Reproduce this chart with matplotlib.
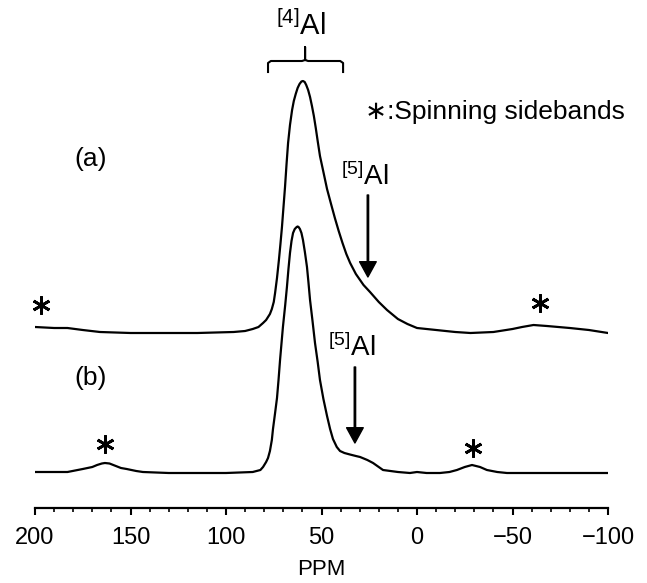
import matplotlib
matplotlib.use("Agg")
import matplotlib.pyplot as plt
import numpy as np

plt.rcParams['font.family'] = ['Liberation Sans', 'DejaVu Sans']
plt.rcParams['mathtext.fontset'] = 'custom'
plt.rcParams['mathtext.rm'] = 'Liberation Sans'
plt.rcParams['mathtext.it'] = 'Liberation Sans:italic'

# Spectrum (a): chemical shift (ppm) and intensity (a.u., above its own baseline)
ppm_a = [200, 190, 183, 175, 166, 150, 131, 115, 96, 90,
         86, 83, 80.6, 79, 78, 77, 76, 75, 74.3, 73.3,
         72.3, 71.5, 70.7, 69.9, 69.1, 68.3, 67.5, 66.5, 65.4, 64.5,
         63.5, 62.5, 61.5, 60.5, 59.7, 58.8, 58, 57, 56, 55,
         54, 53, 52, 50.8, 49, 47.1, 45, 43, 41, 39,
         37, 35, 32, 28, 24.6, 20, 15.7, 10, 5, 0,
         -10, -20, -28, -40, -50, -55, -61, -68, -80, -90,
         -100]
int_a = [5, 4, 4, 2, 0, -1, -1, -1, 0, 1,
         3, 5, 9, 12, 15, 18, 23, 30, 39, 54,
         72, 88, 105, 125, 145, 168, 189, 207, 222, 231,
         238, 244, 248, 250.5, 251, 250, 247, 242, 235, 226,
         216, 204, 191, 176, 160, 143, 128, 114, 101, 89,
         78, 69, 58, 47, 40, 30, 22, 13, 8, 4,
         2, 0, -1, 0, 3, 5, 7, 6, 4, 2,
         -1]

# Spectrum (b)
ppm_b = [200, 183, 175, 170, 167.5, 165, 163.4, 161, 159, 155,
         152, 147, 143.5, 130, 113.6, 100, 86, 82, 80.6, 79,
         78, 77, 76, 75.4, 74.3, 73.3, 72.5, 71.7, 70.2, 69,
         68.1, 67.3, 66.5, 65.7, 64.9, 64, 63, 62.5, 62, 61.3,
         60.5, 59.7, 58.7, 57.6, 56.8, 56, 54.7, 53.4, 52, 50.8,
         49, 47.1, 45.5, 44, 42, 40.3, 38, 35.1, 32, 29.8,
         26, 23, 17.8, 10, 3.7, 0, -5, -12, -17, -20.9,
         -25, -28.8, -33, -36.6, -42, -47.1, -60, -80, -100]
int_b = [1, 1, 4, 6, 8, 9.5, 10, 9.5, 8, 5,
         4, 2, 1, 0, 0, 0, 1, 3, 6, 11,
         15, 22, 33, 44, 60, 75, 93, 113, 146, 168,
         186, 204, 220, 232, 240, 244, 246, 246.5, 246, 244,
         240, 233, 221, 206, 190, 173, 152, 130, 111, 93,
         74, 57, 44, 34, 26, 22, 20, 18.5, 17, 16,
         13, 10, 3, 1, 0, 1, 0, 0, 1, 3,
         6, 8, 6, 3, 1, 0, 0, 0, 0]

offset_a = 141
offset_b = 0

# spinning sideband positions (ppm, height)
sb_ppm = [196.9, -64.4, 163.4, -29.3]
sb_y = [168, 170, 29, 25]

fig = plt.figure(figsize=(6.47, 5.83), dpi=100)
ax = fig.add_axes([35/647, 75/583, 573/647, 508/583])

ax.plot(ppm_a, np.array(int_a) + offset_a, color='k', lw=1.6)
ax.plot(ppm_b, np.array(int_b) + offset_b, color='k', lw=1.6)

ax.plot(sb_ppm, sb_y, ls='none', marker=(6, 2, 0), ms=13, mew=2.0, color='k', clip_on=False)

# arrows for [5]Al
arrow = dict(facecolor='k', edgecolor='k', width=1.0, headwidth=12, headlength=11)
ax.annotate('', xy=(25.7, 196), xytext=(25.7, 278), arrowprops=arrow)
ax.annotate('', xy=(32.5, 30), xytext=(32.5, 106), arrowprops=arrow)
ax.text(27.2, 296, r'$^{[5]}$Al', fontsize=20, ha='center', va='center')
ax.text(34, 125, r'$^{[5]}$Al', fontsize=20, ha='center', va='center')

# bracket over [4]Al peak
ax.plot([78, 78, 76.5, 60.2, 58.6, 58.6, 58.6, 57.0, 40.2, 38.7, 38.7],
        [401, 410, 412, 412, 413, 426, 413, 412, 412, 410, 401],
        color='k', lw=1.5, clip_on=False)
ax.text(60.7, 438, r'$^{[4]}$Al', fontsize=21, ha='center', va='baseline')

ax.text(171, 314, '(a)', fontsize=19, ha='center', va='center')
ax.text(171, 95, '(b)', fontsize=19, ha='center', va='center')
ax.text(27, 361, '\u2217:Spinning sidebands', fontsize=19, ha='left', va='center')

ax.set_xlim(200, -100)
ax.set_ylim(-35, 473)
ax.set_xticks(np.arange(200, -101, -50))
ax.set_xticks(np.arange(200, -101, -10), minor=True)
ax.tick_params(axis='x', which='major', length=5, width=1.5, labelsize=17, pad=9)
ax.tick_params(axis='x', which='minor', length=3, width=1.2)
ax.set_yticks([])
for s in ['left', 'right', 'top']:
    ax.spines[s].set_visible(False)
ax.spines['bottom'].set_linewidth(1.6)
ax.spines['bottom'].set_bounds(200, -100)
ax.set_xlabel('PPM', fontsize=16, labelpad=7)

fig.savefig('out.png', dpi=100)
